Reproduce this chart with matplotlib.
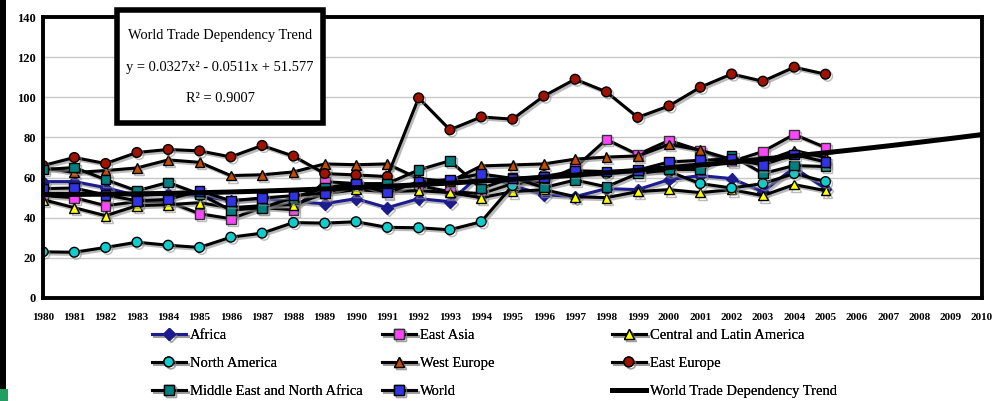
import matplotlib
matplotlib.use("Agg")
import matplotlib.pyplot as plt
import matplotlib.patheffects as pe
from matplotlib.patches import Rectangle
import numpy as np

plt.rcParams["font.family"] = ["Liberation Serif", "DejaVu Serif"]

years = list(range(1980, 2006))
axis_years = list(range(1980, 2011))

africa = [58, 58, 55, 51, 52, 51, 48.5, 49.5, 48, 47, 49.5, 45, 49.5, 48, 62, 56,
          51.5, 50.5, 54.5, 54, 59, 61, 59.5, 53, 65, 54.5]
east_asia = [51, 50, 46, 48, 48, 42, 39.5, 45, 44, 58, 57, 55, 56, 53, 52, 57,
             58, 65, 79, 71.5, 78.5, 73.5, 68, 73, 81.5, 75]
latin_america = [49, 45, 41, 46, 46.5, 47.5, 45, 46, 46.5, 52, 54, 53, 53.5, 52.5, 50, 53,
                 54, 50.5, 50, 53, 54, 52.5, 54, 51, 56.5, 53.5]
north_america = [23, 22.8, 25.2, 27.8, 26.3, 25.2, 30.3, 32.3, 37.6, 37.3, 38, 35.2, 35, 34, 38, 56,
                 61, 61.5, 62, 63, 63, 57, 54.8, 57, 62, 58]
west_europe = [65, 62.5, 63.5, 64.8, 68.8, 67.6, 61, 61.4, 62.8, 66.8, 66.4, 66.8, 59.5, 58, 65.8, 66.3,
               66.8, 69.2, 70.2, 70.8, 76.5, 73.7, 69, 68, 73.5, 70]
east_europe = [66, 70, 67, 72.5, 74, 73.3, 70.3, 76, 70.7, 62, 61.3, 60.5, 99.7, 83.8, 90.2, 89.1,
               100.6, 109, 102.7, 90, 95.7, 105, 111.6, 108, 115, 111.5]
mena = [64, 65, 59, 53.4, 57.6, 51.8, 43.8, 45, 50, 55, 57, 57, 63.8, 68.4, 54.6, 60,
        55, 58.8, 55.4, 62, 64, 64, 71, 62, 66, 65.5]
world = [54.5, 54.8, 51.3, 48.5, 49.1, 53.4, 48.5, 49.8, 51, 52.3, 57, 52.5, 58, 59, 61.8, 59.6,
         60.4, 63.4, 63, 63.7, 67.8, 68.6, 69.3, 66.3, 71.5, 67.8]

# quadratic trend, x counts years from 1 (1980) to 31 (2010)
trend_a, trend_b, trend_c = 0.0327, -0.0511, 51.577
trend_r2 = 0.9007

shadow = [pe.SimpleLineShadow(offset=(1.5, -1.5), shadow_color="0.55", alpha=0.6), pe.Normal()]

fig = plt.figure(figsize=(9.92, 4.01), dpi=100)
fig.patch.set_facecolor("white")
ax = fig.add_axes([43 / 992, 1 - 298 / 401, (982 - 43) / 992, (298 - 17) / 401])

series = [
    ("Africa", africa, "#1c1c8f", "D", "#1c1c8f", "#1c1c8f"),
    ("East Asia", east_asia, "black", "s", "#ff44ff", "#333333"),
    ("Central and Latin America", latin_america, "black", "^", "#ffff00", "black"),
    ("North America", north_america, "black", "o", "#11cccc", "black"),
    ("West Europe", west_europe, "black", "^", "#c24d00", "black"),
    ("East Europe", east_europe, "black", "o", "#a01200", "black"),
    ("Middle East and North Africa", mena, "black", "s", "#008080", "black"),
    ("World", world, "black", "s", "#3333e6", "black"),
]

handles = {}
for name, vals, lc, mk, mfc, mec in series:
    ln, = ax.plot(years, vals, color=lc, lw=2.2, marker=mk, ms=7 if mk != "D" else 6,
                  mfc=mfc, mec=mec, mew=1.0, label=name, path_effects=shadow)
    handles[name] = ln

tx = np.arange(1, len(axis_years) + 1)
trend = trend_a * tx ** 2 + trend_b * tx + trend_c
tl, = ax.plot(axis_years, trend, color="black", lw=3.6, label="World Trade Dependency Trend")
handles["World Trade Dependency Trend"] = tl

ax.set_xlim(1980, 2010)
ax.set_ylim(0, 140)
ax.set_yticks(range(0, 141, 20))
ax.set_xticks(axis_years)
ax.set_xticklabels([str(y) for y in axis_years], fontsize=8, fontweight="bold")
ax.set_yticklabels([str(v) for v in range(0, 141, 20)], fontsize=9, fontweight="bold")
ax.tick_params(axis="x", length=0, pad=11)
ax.tick_params(axis="y", length=0, pad=5)
ax.yaxis.grid(True, color="#c8c8c8", lw=1)
ax.set_axisbelow(True)
for s in ax.spines.values():
    s.set_linewidth(2.8)
    s.set_color("black")

# trend equation box
box = Rectangle((117 / 992, 1 - 123 / 401), 206 / 992, 113 / 401, transform=fig.transFigure,
                facecolor="white", edgecolor="black", lw=4, zorder=5)
fig.add_artist(box)
eq = f"y = {trend_a}x\u00b2 - {abs(trend_b)}x + {trend_c}"
for ty, txt in [(35, "World Trade Dependency Trend"), (68, eq), (98, f"R\u00b2 = {trend_r2}")]:
    fig.text(220 / 992, 1 - ty / 401, txt, ha="center", va="center", fontsize=10.4, zorder=6)

# legend in three fixed columns
columns = [
    ["Africa", "North America", "Middle East and North Africa"],
    ["East Asia", "West Europe", "World"],
    ["Central and Latin America", "East Europe", "World Trade Dependency Trend"],
]
for i, col in enumerate(columns):
    leg = fig.legend([handles[n] for n in col], col, loc="upper left",
                     bbox_to_anchor=((152 + 230 * i) / 992, 1 - 329 / 401),
                     frameon=False, fontsize=10.5, handlelength=2.3, handletextpad=0.3,
                     labelspacing=1.0, borderpad=0, borderaxespad=0)
    fig.add_artist(leg)

# slide frame edge on the left
fig.add_artist(Rectangle((0, 12 / 401), 6 / 992, 1, transform=fig.transFigure,
                         facecolor="black", edgecolor="none"))
fig.add_artist(Rectangle((0, 0), 8 / 992, 12 / 401, transform=fig.transFigure,
                         facecolor="#1fa060", edgecolor="none"))

fig.savefig("out.png", dpi=100, facecolor="white")
